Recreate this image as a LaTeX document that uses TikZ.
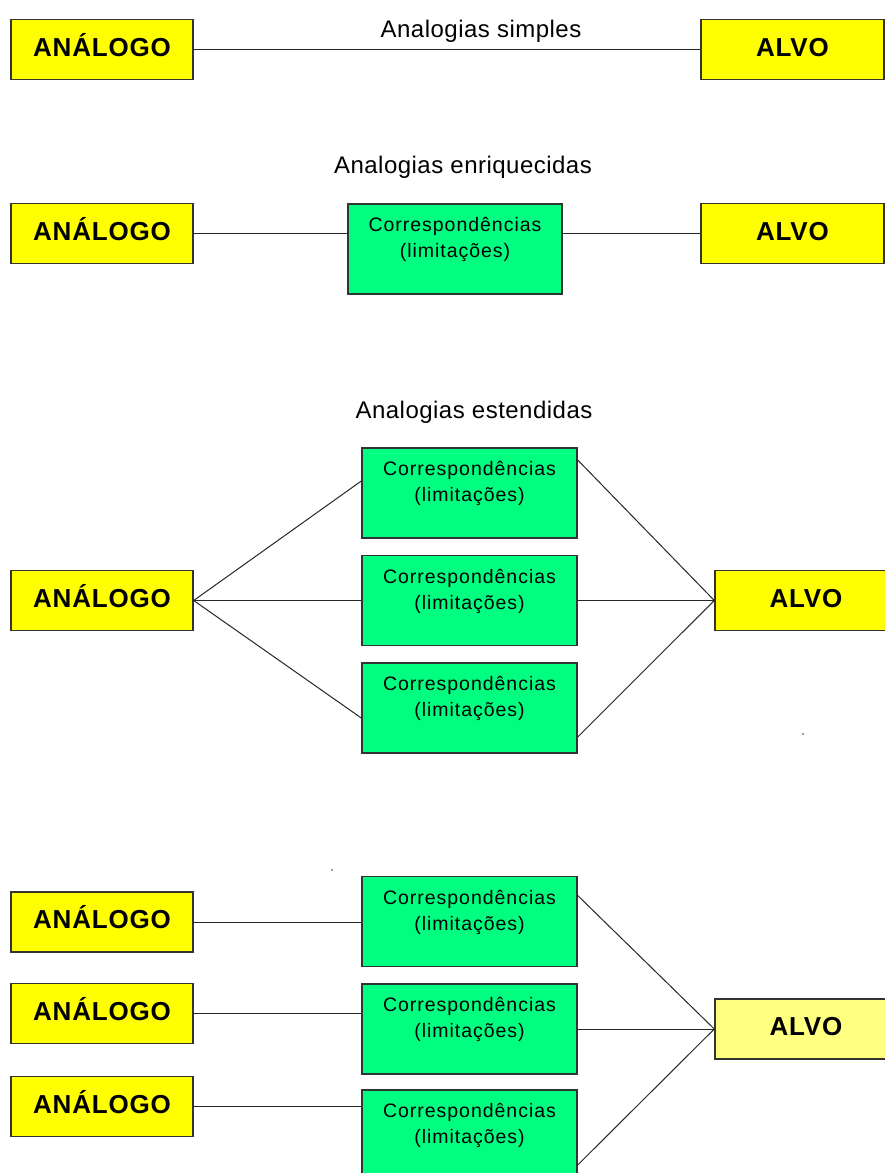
\documentclass[tikz,border=0pt]{standalone}
\usepackage{fontspec}
\setmainfont{Liberation Sans}
\newfontfamily\corrfont{Liberation Sans}[LetterSpace=5]
\newfontfamily\titfont{Liberation Sans}[LetterSpace=2]
\newfontfamily\boxfont{Liberation Sans}[LetterSpace=3]
\usepackage{tikz}
\usetikzlibrary{positioning}
\usetikzlibrary{calc}
\definecolor{amarelo}{HTML}{FFFF00}
\definecolor{amareloc}{HTML}{FFFF80}
\definecolor{verde}{HTML}{00FF80}
\definecolor{borda}{HTML}{333333}
\tikzset{
    ynode/.style = {rectangle, draw=borda, line width=1.4pt, fill=amarelo, inner sep=0pt,
                    minimum width=182pt, minimum height=60pt, text height=19pt, text depth=6pt,
                    font=\boxfont\fontsize{26}{30}\selectfont\bfseries},
    ynodec/.style = {ynode, fill=amareloc},
    gnode/.style = {rectangle, draw=borda, line width=1.4pt, fill=verde, inner sep=0pt,
                    minimum width=215pt, minimum height=90pt},
    gtext/.style = {anchor=north, align=center, inner sep=0pt, yshift=-14pt,
                    font=\corrfont\fontsize{19.5}{26}\selectfont},
    titulo/.style = {anchor=base, inner sep=0pt, font=\titfont\fontsize{24}{28}\selectfont},
    edgen/.style = {line width=1pt, draw=black!85},
}
\newcommand{\corr}{Correspondências\\(limitações)}

\begin{document}
\begin{tikzpicture}[x=1pt,y=-1pt]
\useasboundingbox (0,0) rectangle (885,1173);
\clip (0,0) rectangle (885,1173);
%
% analogias simples
\node[titulo] at (481,37) (t1) {Analogias simples};
\node[ynode] at (102,49.5) (a1) {ANÁLOGO};
\node[ynode, minimum width=183pt] at (792.5,49.5) (b1) {ALVO};
\draw[edgen] (a1) -- (b1);
%
% analogias enriquecidas
\node[titulo] at (463,173) (t2) {Analogias enriquecidas};
\node[ynode] at (102,233.5) (a2) {ANÁLOGO};
\node[gnode, minimum width=214pt, label={[gtext]north:\corr}] at (455,249) (c2) {};
\node[ynode, minimum width=183pt] at (792.5,233.5) (b2) {ALVO};
\draw[edgen] (a2.east) -- (a2.east -| c2.west);
\draw[edgen] (c2.east |- b2.west) -- (b2.west);
%
% analogias estendidas
\node[titulo] at (474,418) (t3) {Analogias estendidas};
\node[ynode] at (102,600.5) (a3) {ANÁLOGO};
\node[gnode, label={[gtext]north:\corr}] at (469.5,493) (c31) {};
\node[gnode, label={[gtext]north:\corr}] at (469.5,600.5) (c32) {};
\node[gnode, label={[gtext]north:\corr}] at (469.5,708) (c33) {};
\node[ynode] at (806,600.5) (b3) {ALVO};
\draw[edgen] (a3.east) -- ([yshift=12pt]c31.west);
\draw[edgen] (a3.east) -- (c32.west);
\draw[edgen] (a3.east) -- ([yshift=-10pt]c33.west);
\draw[edgen] ([yshift=33pt]c31.east) -- (b3.west);
\draw[edgen] (c32.east) -- (b3.west);
\draw[edgen] ([yshift=-29pt]c33.east) -- (b3.west);
\fill[black!80] (803,734) circle (0.8pt);
%
% varios analogos
\fill[black!80] (332,870) circle (0.8pt);
\node[ynode] at (102,922) (a41) {ANÁLOGO};
\node[ynode] at (102,1013.5) (a42) {ANÁLOGO};
\node[ynode] at (102,1106.5) (a43) {ANÁLOGO};
\node[gnode, label={[gtext]north:\corr}] at (469.5,921.5) (c41) {};
\node[gnode, label={[gtext]north:\corr}] at (469.5,1029) (c42) {};
\node[gnode, label={[gtext]north:\corr}] at (469.5,1135) (c43) {};
\node[ynodec] at (806,1029) (b4) {ALVO};
\draw[edgen] (a41.east) -- (a41.east -| c41.west);
\draw[edgen] (a42.east) -- (a42.east -| c42.west);
\draw[edgen] (a43.east) -- (a43.east -| c43.west);
\draw[edgen] ([yshift=26pt]c41.east) -- (b4.west);
\draw[edgen] (c42.east) -- (b4.west);
\draw[edgen] ([yshift=-30pt]c43.east) -- (b4.west);

\end{tikzpicture}
\end{document}
